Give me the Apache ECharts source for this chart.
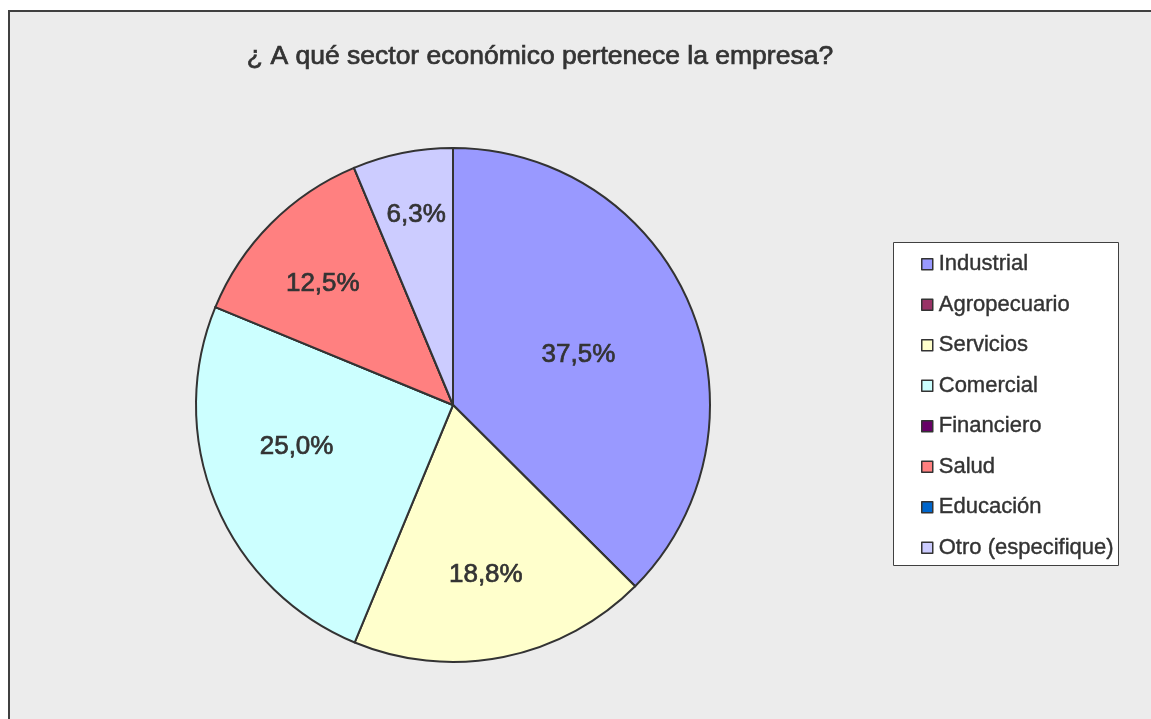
<!DOCTYPE html>
<html>
<head>
<meta charset="utf-8">
<script src="https://cdn.jsdelivr.net/npm/echarts@6/dist/echarts.min.js"></script>
<style>
html,body{margin:0;padding:0;background:#ffffff;overflow:hidden;}
#main{position:absolute;left:0;top:0;width:1151px;height:719px;}
</style>
</head>
<body>
<div id="main"></div>
<script>
const titleText = '¿ A qué sector económico pertenece la empresa?';
const categories = ['Industrial','Agropecuario','Servicios','Comercial','Financiero','Salud','Educación','Otro (especifique)'];
const values = [37.5, 0, 18.8, 25.0, 0, 12.5, 0, 6.3];
const colors = ['#9999FF','#993366','#FFFFCC','#CCFFFF','#660066','#FF8080','#0066CC','#CCCCFF'];
// label nudges (style only), relative to the default inside position
const labelOffsets = [[4,0],[0,0],[7,41],[-35,-9],[0,0],[-37,-28],[0,0],[-11,-61]];

const FONT = 'Liberation Sans, Arial, sans-serif';
const TXT = '#333333';
const chart = echarts.init(document.getElementById('main'), null, {renderer:'canvas'});
const option = {
  animation:false,
  title:{
    text:titleText,
    left:535, top:38, textAlign:'center',
    textStyle:{fontFamily:FONT, fontSize:26.5, fontWeight:'normal', color:TXT, textBorderColor:TXT, textBorderWidth:0.7}
  },
  graphic:[
    {type:'rect', left:9, top:11, z:-10, silent:true, shape:{width:1142, height:708}, style:{fill:'#ececec'}},
    {type:'line', z:-9, silent:true, shape:{x1:9, y1:11, x2:1151, y2:11}, style:{stroke:'#404040', lineWidth:2}},
    {type:'line', z:-9, silent:true, shape:{x1:9, y1:10, x2:9, y2:719}, style:{stroke:'#404040', lineWidth:2}},
    {type:'rect', left:893, top:242, z:0, silent:true, shape:{width:225, height:323}, style:{fill:'#ffffff', stroke:'#404040', lineWidth:1}}
  ],
  legend:{
    orient:'vertical', left:916, top:248,
    itemWidth:11, itemHeight:11, itemGap:18.1,
    icon:'rect',
    itemStyle:{borderColor:'#333333', borderWidth:1.5},
    textStyle:{fontFamily:FONT, fontSize:22, lineHeight:22, color:TXT, padding:[0,0,0,1], textBorderColor:TXT, textBorderWidth:0.4},
    data:categories
  },
  series:[{
    type:'pie',
    center:[453,405], radius:257,
    startAngle:90, clockwise:true,
    avoidLabelOverlap:false,
    itemStyle:{borderColor:'#333333', borderWidth:2},
    label:{
      position:'inside',
      fontFamily:FONT, fontSize:26, color:TXT, textBorderColor:TXT, textBorderWidth:0.7,
      formatter:p => p.value ? p.value.toFixed(1).replace('.',',') + '%' : ''
    },
    labelLine:{show:false},
    emphasis:{disabled:true},
    data:categories.map((c,i)=>({name:c, value:values[i], itemStyle:{color:colors[i]}, label:{offset:labelOffsets[i]}}))
  }]
};
chart.setOption(option);
</script>
</body>
</html>
